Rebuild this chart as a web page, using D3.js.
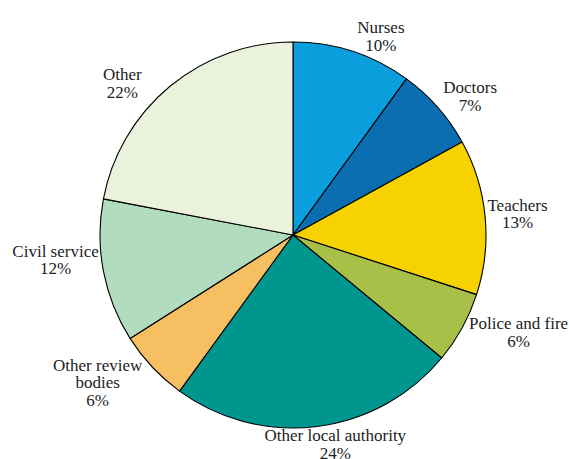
<!DOCTYPE html>
<html>
<head>
<meta charset="utf-8">
<script src="https://cdn.jsdelivr.net/npm/d3@7"></script>
<style>
  html, body { margin: 0; padding: 0; background: #fff; }
  svg { display: block; }
  text { font-family: "Liberation Serif", "DejaVu Serif", serif; font-size: 17px; fill: #222; }
</style>
</head>
<body>
<svg id="chart" width="569" height="459"></svg>
<script>
const categories = ["Nurses", "Doctors", "Teachers", "Police and fire", "Other local authority", "Other review bodies", "Civil service", "Other"];
const shares = [10, 7, 13, 6, 24, 6, 12, 22];
const labelLines = [["Nurses"], ["Doctors"], ["Teachers"], ["Police and fire"], ["Other local authority"], ["Other review", "bodies"], ["Civil service"], ["Other"]];
const colors = ["#0a9fdc", "#0a6eb0", "#f6d200", "#a8bf48", "#009690", "#f5bf62", "#b2dcbe", "#eaf2dc"];
// layout: angular nudge (degrees) of each label away from its slice's mid-angle, and extra outward padding (px)
const labelNudgeDeg = [5.9, 3.4, 0, -5.4, -4.3, 6.1, 4.8, -8.8];
const labelExtraPad = [0, 0, 0, 0, 0, 0, 0, 9];

const W = 569, H = 459;
const cx = 293, cy = 235, r = 193;
const fs = 17, gap = 1.5, lineH = 17.5;

const svg = d3.select("#chart");
const g = svg.append("g").attr("transform", `translate(${cx},${cy})`);

const data = categories.map((c, i) => ({ name: c, value: shares[i], lines: labelLines[i], color: colors[i], nudge: labelNudgeDeg[i], pad: labelExtraPad[i] }));
const pie = d3.pie().sort(null).value(d => d.value);
const arcs = pie(data);
const arc = d3.arc().innerRadius(0).outerRadius(r);

g.selectAll("path.slice").data(arcs).join("path")
  .attr("class", "slice")
  .attr("d", arc)
  .attr("fill", d => d.data.color)
  .attr("stroke", "#000")
  .attr("stroke-width", 1.1)
  .attr("stroke-linejoin", "round");

const labels = g.selectAll("g.lab").data(arcs).join("g").attr("class", "lab");
labels.each(function(d) {
  const grp = d3.select(this);
  const lines = d.data.lines.concat([d3.format("d")(d.data.value) + "%"]);
  const t = grp.append("text").attr("text-anchor", "middle");
  lines.forEach((ln, i) => {
    t.append("tspan").attr("x", 0).attr("y", i * lineH).text(ln);
  });
  const bb = t.node().getBBox();
  const w = bb.width;
  const top = -0.68 * fs, bottom = (lines.length - 1) * lineH + 0.02 * fs;
  const h = bottom - top;
  const offX = bb.x + w / 2, offY = (top + bottom) / 2;
  const ang = (d.startAngle + d.endAngle) / 2 + d.data.nudge * Math.PI / 180;
  const ux = Math.sin(ang), uy = -Math.cos(ang);
  let dist = 0, bx = 0, by = 0;
  for (dist = r * 0.5; dist < r + 400; dist += 0.25) {
    bx = ux * dist; by = uy * dist;
    const dx = Math.max(Math.abs(bx) - w / 2, 0);
    const dy = Math.max(Math.abs(by) - h / 2, 0);
    if (Math.hypot(dx, dy) >= r + gap + d.data.pad) break;
  }
  grp.attr("transform", `translate(${bx - offX},${by - offY})`);
});
</script>
</body>
</html>
